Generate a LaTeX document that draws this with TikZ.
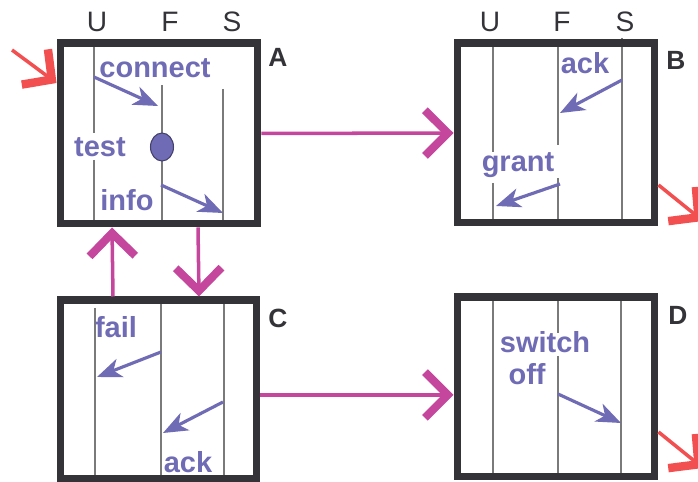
\documentclass[tikz,border=0pt]{standalone}
\usepackage{fontspec}
\setmainfont{Liberation Sans}
\usetikzlibrary{arrows.meta, positioning, calc, shapes.geometric}

\definecolor{msg}{HTML}{6F6BB4}
\definecolor{flow}{HTML}{C4479D}
\definecolor{alarm}{HTML}{F25050}
\definecolor{frame}{HTML}{343438}
\definecolor{lanegray}{HTML}{7A7A7A}

\tikzset{
  box/.style={draw=frame, line width=4pt, inner sep=0pt,
    minimum width=3.96cm, minimum height=3.6cm},
  lane/.style={lanegray, line width=0.7pt},
  msgarrow/.style={msg, line width=1.8pt,
    -{Stealth[length=14pt, width=11pt, inset=4pt]}},
  msglabel/.style={text=msg, inner sep=0pt, align=left,
    font=\bfseries\fontsize{16.5}{18}\selectfont},
  hop/.style={flow, line width=2pt,
    -{Straight Barb[length=13pt, width=26pt, line width=4.6pt, sharp]}},
  fault/.style={alarm, line width=2pt,
    -{Straight Barb[length=12pt, width=25pt, line width=4.8pt, sharp]}},
  boxname/.style={text=frame, font=\bfseries\fontsize{15}{17}\selectfont},
  agent/.style={text=frame, font=\fontsize{16}{18}\selectfont},
  token/.style={ellipse, draw=msg!60!black, fill=msg, line width=0.6pt,
    minimum width=0.46cm, minimum height=0.56cm, inner sep=0pt}
}

\begin{document}
\begin{tikzpicture}[x=0.02cm, y=-0.02cm]
  \useasboundingbox (0,0) rectangle (698,482);

  % lanes U, F, S
  \draw[lane] (94,43) -- (94,133) (94,160) -- (94,224);
  \draw[lane] (162,85) -- (162,224);
  \draw[lane] (223,89) -- (223,224);
  \draw[lane] (493,43) -- (493,152) (493,183) -- (493,223);
  \draw[lane] (558,43) -- (558,145) (558,178) -- (558,223);
  \draw[lane] (622,38) -- (622,223);
  \draw[lane] (95,308) -- (95,479);
  \draw[lane] (161,300) -- (161,479);
  \draw[lane] (224,300) -- (224,479);
  \draw[lane] (493,297) -- (493,477);
  \draw[lane] (558,297) -- (558,333) (558,356) -- (558,477);
  \draw[lane] (621,297) -- (621,477);

  % boxes
  \node[box, minimum height=3.62cm] (A) at (159,133.5) {};
  \node[box] (B) at (556,133) {};
  \node[box, minimum width=3.94cm, minimum height=3.58cm] (C) at (158.5,389.5) {};
  \node[box] (D) at (556,387) {};

  \node[boxname] (nA) at (278,57) {A};
  \node[boxname] (nB) at (676,60) {B};
  \node[boxname] (nC) at (278,318) {C};
  \node[boxname] (nD) at (678,315) {D};

  \foreach \x/\t in {97/U, 170/F, 232/S, 490/U, 562/F, 625/S}
    \node[agent] at (\x,22) {\t};

  % messages
  \node[msglabel] (connect) at (155,68) {connect};
  \node[msglabel] (test) at (100,147) {test};
  \node[msglabel] (info) at (127,200) {info};
  \node[token] (tok) at (162,147) {};
  \draw[msgarrow] (94,77) -- (158,106);
  \draw[msgarrow] (161,185) -- (223,213);

  \node[msglabel] (ackB) at (585,63) {ack};
  \node[msglabel] (grant) at (518,165) {grant};
  \draw[msgarrow] (622,80) -- (560,113);
  \draw[msgarrow] (560,184) -- (496,206);

  \node[msglabel] (fail) at (116,327) {fail};
  \node[msglabel] (ackC) at (188,462) {ack};
  \draw[msgarrow] (161,352) -- (97,377);
  \draw[msgarrow] (223,402) -- (163,433);

  \node[msglabel] (switch) at (545,358) {switch\\\hspace{0.3em}off};
  \draw[msgarrow] (558,394) -- (621,423);

  % transitions
  \draw[hop] (A.east) -- (B.west);
  \draw[hop] (C.east |- 0,395) -- (D.west |- 0,395);
  \draw[hop] (A.south -| 198,0) -- (C.north -| 199,0);
  \draw[hop] (C.north -| 113,0) -- (A.south -| 112,0);

  % entry and exits
  \coordinate (start) at (12,50);
  \coordinate (exitB) at (703,221);
  \coordinate (exitD) at (703,468);
  \draw[fault] (start) -- (A.west |- 0,83);
  \draw[fault] (B.east |- 0,185) -- (exitB);
  \draw[fault] (D.east |- 0,432) -- (exitD);
\end{tikzpicture}
\end{document}
